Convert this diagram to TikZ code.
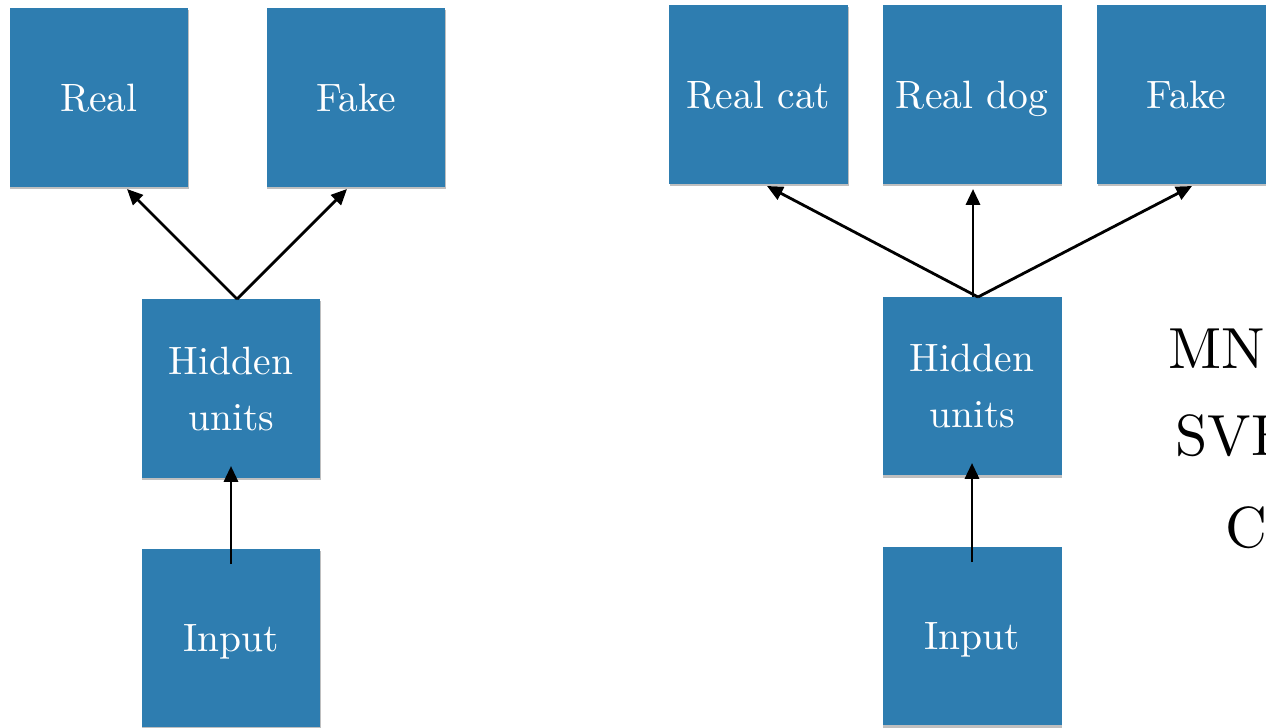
\documentclass[tikz,border=0pt]{standalone}
\usepackage{fontspec}
\setmainfont{lmroman10-regular.otf}
\usetikzlibrary{arrows.meta,shadows}
\definecolor{boxblue}{RGB}{46,125,176}
\begin{document}
\begin{tikzpicture}[x=0.02cm,y=-0.02cm,
  unitbox/.style={rectangle, fill=boxblue, draw=none, minimum width=3.58cm, minimum height=3.58cm, inner sep=0pt, text=white, align=center, text depth=0pt, font=\fontsize{22.5}{32}\selectfont, drop shadow={shadow xshift=0.4pt, shadow yshift=-1.2pt, opacity=0.25, fill=black}},
  conn/.style={line width=1.6pt, -{Triangle[length=9pt,width=8pt]}},
  dsname/.style={font=\fontsize{33}{40}\selectfont, anchor=base west, inner sep=0pt}]
\clip (0,0) rectangle (1266,727);
\fill[white] (0,0) rectangle (1266,727);
% left network
\node[unitbox] (lreal) at (99,97.5) {Real};
\node[unitbox] (lfake) at (356,97.5) {Fake};
\node[unitbox] (lhidden) at (231,388.5) {Hidden\\units};
\node[unitbox] (linput) at (231,638) {Input};
\coordinate (ljoin) at (237,299);
\coordinate (lrealtip) at (127,189);
\coordinate (lfaketip) at (347,189);
\coordinate (linfrom) at (231,564);
\coordinate (lhidto) at (231,466);
\draw[conn] (ljoin) -- (lrealtip);
\draw[conn] (ljoin) -- (lfaketip);
\draw[conn] (linfrom) -- (lhidto);
% right network
\node[unitbox] (rcat) at (758.5,94.5) {Real cat};
\node[unitbox] (rdog) at (972,94.5) {Real dog};
\node[unitbox] (rfake) at (1186.5,94.5) {Fake};
\node[unitbox] (rhidden) at (972,386) {Hidden\\units};
\node[unitbox] (rinput) at (972,636) {Input};
\coordinate (rjoin) at (978,297);
\coordinate (rvjoin) at (973,297);
\coordinate (rcattip) at (767,186);
\coordinate (rdogtip) at (973,189);
\coordinate (rfaketip) at (1192,186);
\coordinate (rinfrom) at (972,562);
\coordinate (rhidto) at (972,463);
\draw[conn] (rjoin) -- (rcattip);
\draw[conn] (rvjoin) -- (rdogtip);
\draw[conn] (rjoin) -- (rfaketip);
\draw[conn] (rinfrom) -- (rhidto);
% dataset names (clipped at the right edge, as in the reference)
\node[dsname] (mnist) at (1168,368) {MN};
\node[dsname] (svhn) at (1175,455) {SVH};
\node[dsname] (cifar) at (1225,547) {C};
\end{tikzpicture}
\end{document}
